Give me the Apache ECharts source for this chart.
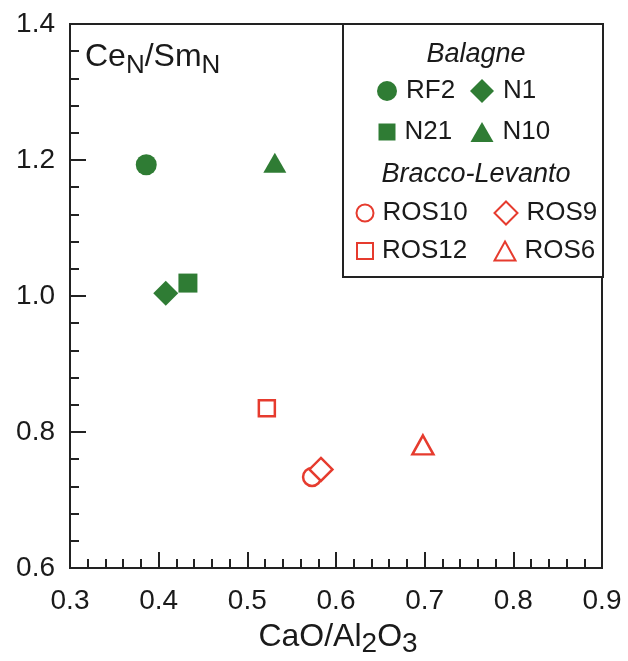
<!DOCTYPE html>
<html>
<head>
<meta charset="utf-8">
<script src="https://cdn.jsdelivr.net/npm/echarts@6/dist/echarts.min.js"></script>
<style>html,body{margin:0;padding:0;background:#fff}#c{width:628px;height:661px}</style>
</head>
<body>
<div id="c"></div>
<script>
// Data
const balagneNames = ['RF2', 'N1', 'N21', 'N10'];
const balagneX = [0.386, 0.408, 0.433, 0.531];
const balagneY = [1.193, 1.004, 1.019, 1.196];
const balagneSymbols = ['circle', 'diamond', 'rect', 'triangle'];

const braccoNames = ['ROS10', 'ROS9', 'ROS12', 'ROS6'];
const braccoX = [0.573, 0.583, 0.522, 0.698];
const braccoY = [0.734, 0.745, 0.835, 0.781];
const braccoSymbols = ['circle', 'diamond', 'rect', 'triangle'];

const xTickLabels = ['0.3', '0.4', '0.5', '0.6', '0.7', '0.8', '0.9'];
const yTickLabels = ['0.6', '0.8', '1.0', '1.2', '1.4'];

const GREEN = '#2f7c34';
const RED = '#e63b2e';
const FONT = 'Liberation Sans, Arial, sans-serif';
const TXT = '#1a1a1a';

const filledSizes = { circle: 21, diamond: 25, rect: 19, triangle: [23, 20] };
const hollowSizes = { circle: 18, diamond: 23, rect: 16, triangle: [21, 19] };

const series = [];
balagneNames.forEach((n, i) => {
  series.push({
    name: n, type: 'scatter', symbol: balagneSymbols[i],
    symbolSize: filledSizes[balagneSymbols[i]],
    itemStyle: { color: GREEN, opacity: 1 },
    data: [[balagneX[i], balagneY[i]]], z: 3
  });
});
braccoNames.forEach((n, i) => {
  series.push({
    name: n, type: 'scatter', symbol: braccoSymbols[i],
    symbolSize: hollowSizes[braccoSymbols[i]],
    itemStyle: { color: '#ffffff', borderColor: RED, borderWidth: 2.5, opacity: 1 },
    data: [[braccoX[i], braccoY[i]]], z: 3
  });
});

// legend layout: [name, iconCenterX, centerY, w, h]
const legendItems = [
  ['RF2', 387, 91, 20, 20], ['N1', 482, 91, 24, 24],
  ['N21', 387, 132, 17, 17], ['N10', 482, 132, 23, 20],
  ['ROS10', 364, 213, 17, 17], ['ROS9', 505, 213, 23, 23],
  ['ROS12', 364, 251, 16, 16], ['ROS6', 504, 251, 21, 19]
];
const LEG_H = 28;
const legends = legendItems.map(([name, cx, cy, w, h]) => ({
  data: [name], left: cx - w / 2, top: cy - LEG_H / 2, padding: 0,
  itemWidth: w, itemHeight: h, selectedMode: false, z: 10,
  textStyle: { fontFamily: FONT, fontSize: 26, color: TXT, height: LEG_H, lineHeight: LEG_H, padding: [0, 0, 0, 4] }
}));

const chart = echarts.init(document.getElementById('c'));
chart.setOption({
  animation: false,
  backgroundColor: '#fff',
  grid: { left: 70, right: 26, top: 24, bottom: 93, show: true, borderColor: '#222', borderWidth: 2, backgroundColor: 'transparent' },
  xAxis: {
    type: 'value', min: 0.3, max: 0.9, interval: 0.1,
    axisLine: { show: true, lineStyle: { color: '#222', width: 2 } },
    axisTick: { show: true, inside: true, length: 16, lineStyle: { color: '#222', width: 2 } },
    minorTick: { show: true, splitNumber: 5, length: 9, lineStyle: { color: '#222', width: 2 } },
    splitLine: { show: false },
    axisLabel: {
      margin: 19, fontFamily: FONT, fontSize: 28, color: TXT,
      formatter: v => xTickLabels[Math.round((v - 0.3) / 0.1)] || ''
    }
  },
  yAxis: {
    type: 'value', min: 0.6, max: 1.4, interval: 0.2,
    axisLine: { show: true, lineStyle: { color: '#222', width: 2 } },
    axisTick: { show: true, inside: true, length: 16, lineStyle: { color: '#222', width: 2 } },
    minorTick: { show: true, splitNumber: 5, length: 9, lineStyle: { color: '#222', width: 2 } },
    splitLine: { show: false },
    axisLabel: {
      margin: 15, fontFamily: FONT, fontSize: 28, color: TXT,
      formatter: v => yTickLabels[Math.round((v - 0.6) / 0.2)] || ''
    }
  },
  legend: legends,
  graphic: [
    { type: 'rect', z: 5, shape: { x: 343, y: 24, width: 260, height: 253 }, style: { fill: '#fff', stroke: '#222', lineWidth: 2 } },
    { type: 'text', z: 6, style: { text: 'Balagne', x: 476, y: 54, align: 'center', verticalAlign: 'middle', font: 'italic 27px ' + FONT, fill: TXT } },
    { type: 'text', z: 6, style: { text: 'Bracco-Levanto', x: 476, y: 174, align: 'center', verticalAlign: 'middle', font: 'italic 27px ' + FONT, fill: TXT } },
    { type: 'text', z: 6, style: {
        text: 'Ce{s|N}/Sm{s|N}', x: 85, y: 35, fill: TXT,
        font: '32px ' + FONT, verticalAlign: 'top',
        rich: {
          s: { fontSize: 26, fontFamily: FONT, fill: TXT, padding: [18, 0, 0, 0], verticalAlign: 'top' }
        }
      } },
    { type: 'text', z: 6, style: {
        text: 'CaO/Al{s|2}O{s|3}', x: 338, y: 617, align: 'center', fill: TXT,
        font: '32px ' + FONT, verticalAlign: 'top',
        rich: {
          s: { fontSize: 28, fontFamily: FONT, fill: TXT, padding: [13, 0, 0, 0], verticalAlign: 'top' }
        }
      } }
  ],
  series: series
});
</script>
</body>
</html>
